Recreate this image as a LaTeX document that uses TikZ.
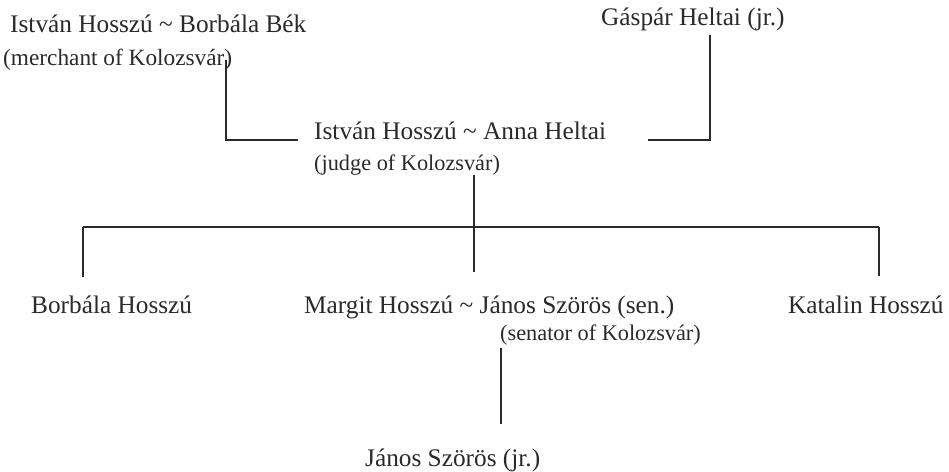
\documentclass[tikz,border=0pt]{standalone}
\usepackage{fontspec}
\setmainfont{Liberation Serif}
\definecolor{ink}{HTML}{2A2A2A}
\begin{document}
\begin{tikzpicture}[x=1pt,y=-1pt,
  person/.style={anchor=base west, inner sep=0pt, text=ink, font=\fontsize{25.3}{30}\selectfont},
  office/.style={anchor=base west, inner sep=0pt, text=ink, font=\fontsize{22.3}{26}\selectfont},
  link/.style={draw=ink, line width=1.5pt}]
\useasboundingbox (0,0) rectangle (949,471);
\fill[white] (0,0) rectangle (949,471);
% people
\node[person] (bek) at (10,32) {István Hosszú \textasciitilde{} Borbála Bék};
\node[office, font=\fontsize{23.3}{27}\selectfont] (merch) at (3,65) {(merchant of Kolozsvár)};
\node[person] (gaspar) at (601,25) {Gáspár Heltai (jr.)};
\node[person] (anna) at (314,139) {István Hosszú \textasciitilde{} Anna Heltai};
\node[office] (judge) at (314,170) {(judge of Kolozsvár)};
\node[person] (borb) at (31,313) {Borbála Hosszú};
\node[person] (margit) at (304,313) {Margit Hosszú \textasciitilde{} János Szörös (sen.)};
\node[person] (katalin) at (788,313) {Katalin Hosszú};
\node[office] (senator) at (500,340) {(senator of Kolozsvár)};
\node[person] (janos) at (365,466) {János Szörös (jr.)};
% connector ends
\coordinate (m1) at (226,60);
\coordinate (a1) at (298,140);
\coordinate (a2) at (648,140);
\coordinate (g1) at (710,35);
\coordinate (c1) at (474,175);
\coordinate (c2) at (474,272);
\coordinate (bl) at (83,227);
\coordinate (br) at (879,227);
\coordinate (b1) at (83,277);
\coordinate (k1) at (879,276);
\coordinate (s1) at (501,348);
\coordinate (s2) at (501,424);
% connectors
\draw[link] (m1) |- (a1);
\draw[link] (a2) -| (g1);
\draw[link] (c1) -- (c2);
\draw[link] (bl) -- (br);
\draw[link] (bl) -- (b1);
\draw[link] (br) -- (k1);
\draw[link] (s1) -- (s2);
\end{tikzpicture}
\end{document}
